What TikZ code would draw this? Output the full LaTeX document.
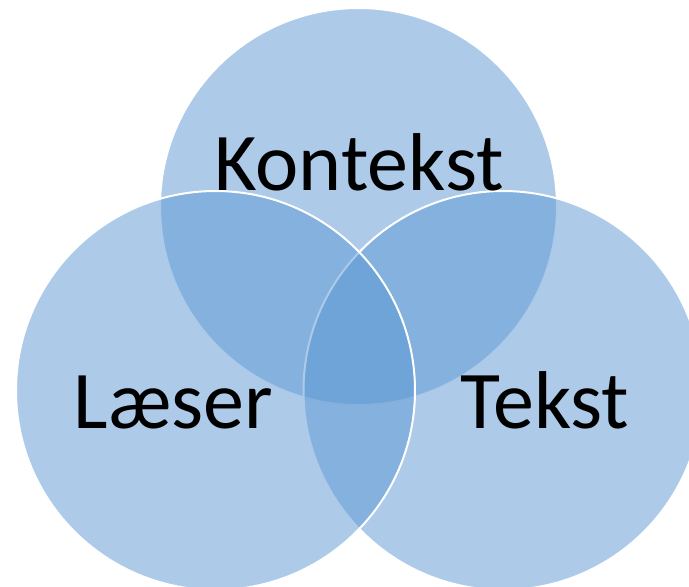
\documentclass[tikz,border=0pt]{standalone}
\usepackage{fontspec}
\setmainfont{Carlito}
\definecolor{accent}{HTML}{5B97D3}
\tikzset{
  venn/.style={circle, minimum size=399pt, inner sep=0pt, fill=accent, fill opacity=0.5, draw=white, draw opacity=1, line width=2pt},
  lbl/.style={anchor=base, inner sep=0pt, text=black, font=\fontsize{82}{90}\selectfont}
}
\begin{document}
\begin{tikzpicture}[x=1pt,y=-1pt]
\useasboundingbox (0,0) rectangle (689,587);
\clip (0,0) rectangle (689,587);
\node[venn, minimum size=397pt] (top) at (358.5,206.5) {};
\node[venn] (right) at (503,390.5) {};
\node[venn] (left) at (215.5,390.5) {};
\node[lbl] (kontekst) at (359,190) {Kontekst};
\node[lbl] (laeser) at (173.5,428) {Læser};
\node[lbl] (tekst) at (545,428) {Tekst};
\end{tikzpicture}
\end{document}
